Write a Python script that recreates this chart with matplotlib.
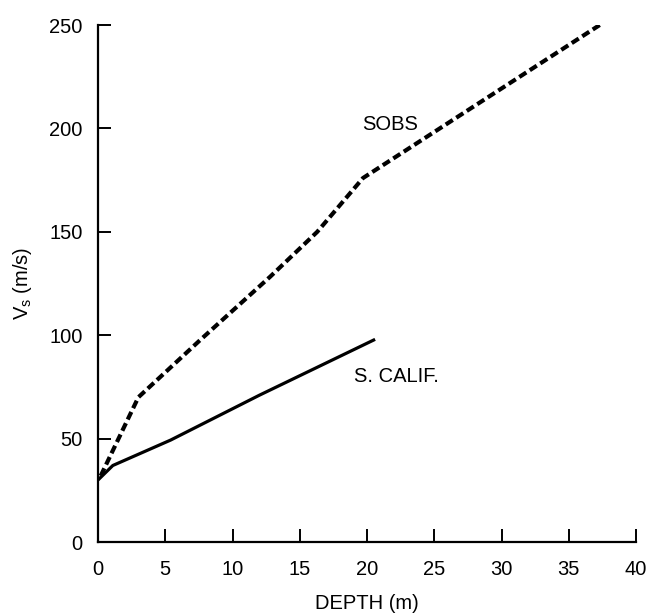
import matplotlib
matplotlib.use("Agg")
import matplotlib.pyplot as plt

plt.rcParams['font.family'] = ['Liberation Sans', 'DejaVu Sans']
plt.rcParams['mathtext.fontset'] = 'custom'
plt.rcParams['mathtext.rm'] = 'Liberation Sans'

# perfiles de velocidad
sobs_depth = [0.2, 3.0, 7.6, 12.8, 16.3, 19.7, 37.3]
sobs_vs = [32, 70, 97.7, 128.3, 150, 176, 250]

calif_depth = [0.0, 1.1, 5.4, 12.0, 20.6]
calif_vs = [30, 37, 49.3, 71, 98]

x_ticks = [0, 5, 10, 15, 20, 25, 30, 35, 40]
y_ticks = [0, 50, 100, 150, 200, 250]

fig = plt.figure(figsize=(6.5, 6.13), dpi=100)
ax = fig.add_axes([0.1508, 0.1158, 0.8277, 0.8434])

ax.plot(sobs_depth, sobs_vs, color='black', lw=3.0, linestyle=(0, (2.0, 1.0)))
ax.plot(calif_depth, calif_vs, color='black', lw=2.3, solid_capstyle='butt')

ax.text(19.6, 202, "SOBS", fontsize=14.5, va='center', ha='left')
ax.text(19.0, 80, "S. CALIF.", fontsize=14.5, va='center', ha='left')

ax.set_xlim(0, 40)
ax.set_ylim(0, 250)
ax.set_xticks(x_ticks)
ax.set_yticks(y_ticks)
ax.spines['top'].set_visible(False)
ax.spines['right'].set_visible(False)
ax.spines['left'].set_linewidth(1.6)
ax.spines['bottom'].set_linewidth(1.6)
ax.tick_params(direction='in', length=9.4, width=1.4, labelsize=14.5)
ax.tick_params(axis='x', pad=13)
ax.tick_params(axis='y', pad=11)

ax.set_xlabel("DEPTH (m)", fontsize=14.5, labelpad=11)
ax.set_ylabel(r"V$_\mathrm{s}$ (m/s)", fontsize=14.5, labelpad=11)

fig.savefig("out.png", dpi=100)
